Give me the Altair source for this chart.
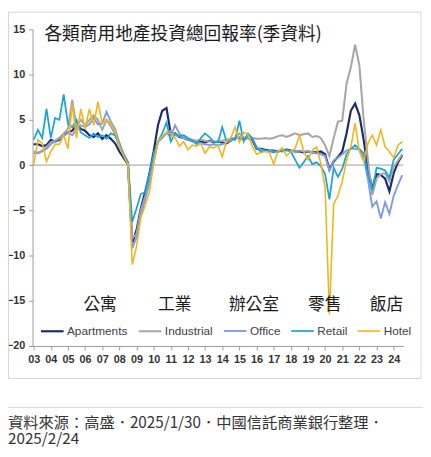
import json
import altair as alt
import pandas as pd

# ---------------- data ----------------
series_names = ["Apartments", "Industrial", "Office", "Retail", "Hotel"]
series_colors = ["#1c2b6b", "#a6a6a6", "#7f9be3", "#1aa2da", "#f2b51b"]
year_labels = ["03", "04", "05", "06", "07", "08", "09", "10", "11", "12", "13",
               "14", "15", "16", "17", "18", "19", "20", "21", "22", "23", "24"]

apartments = [
    2.3, 2.3, 2.1, 2.2, 2.8, 2.6, 2.8, 3.3, 3.6, 3.8, 4.4, 4.0,
    3.8, 3.3, 3.1, 3.5, 2.9, 3.3, 2.9, 2.4, 1.5, 0.8, 0.1, -8.6,
    -7.2, -4.8, -3.0, -1.0, 1.5, 4.4, 6.0, 6.3, 3.4, 3.5, 3.1, 3.0,
    2.8, 2.7, 2.6, 2.6, 2.5, 2.7, 2.5, 2.6, 2.5, 2.4, 2.7, 3.0,
    3.0, 2.9, 3.0, 2.8, 1.8, 1.8, 1.7, 1.6, 1.6, 1.5, 1.6, 1.7,
    1.6, 1.5, 1.5, 1.4, 1.5, 1.4, 1.4, 1.5, 1.2, -0.5, 0.4, 0.9,
    1.5, 3.5, 6.0, 6.8, 5.5, 2.8, -0.5, -2.6, -1.0, -1.1, -1.5, -2.9,
    -0.9, 0.3, 1.1]
industrial = [
    1.5, 1.4, 1.6, 2.0, 2.5, 2.7, 3.0, 3.5, 4.0, 7.2, 4.2, 5.0,
    4.4, 5.0, 5.5, 5.0, 3.9, 5.0, 4.3, 3.4, 2.0, 1.1, 0.2, -8.1,
    -7.6, -5.0, -3.5, -1.8, 0.8, 2.5, 3.1, 3.6, 3.8, 3.3, 3.2, 3.0,
    2.9, 2.8, 2.7, 2.8, 2.7, 2.6, 2.6, 2.6, 2.7, 2.8, 2.9, 3.0,
    3.5, 3.0, 3.0, 3.0, 2.9, 2.9, 3.0, 2.9, 3.0, 3.2, 3.3, 3.1,
    3.3, 3.5, 3.3, 3.4, 3.5, 3.1, 3.2, 3.0, 2.2, 1.0, 3.0, 4.8,
    4.9, 9.0, 10.8, 13.3, 11.0, 5.0, 0.5, -3.3, -1.5, -1.0, -0.9, -1.8,
    -0.2, 0.5, 1.2]
office = [
    1.3, 1.3, 1.5, 1.8, 2.3, 2.6, 2.9, 3.2, 3.6, 3.3, 4.0, 4.4,
    4.2, 4.5, 5.2, 4.5, 4.6, 5.9, 4.8, 4.0, 2.5, 1.2, 0.3, -9.2,
    -8.0, -5.5, -3.8, -2.0, 0.2, 2.6, 3.0, 3.5, 3.2, 4.4, 3.5, 3.0,
    2.8, 2.6, 2.5, 2.4, 2.3, 2.2, 2.3, 2.2, 2.3, 2.5, 2.7, 2.9,
    3.1, 3.0, 3.1, 2.9, 2.0, 1.7, 1.6, 1.6, 1.5, 1.5, 1.6, 1.6,
    1.6, 1.5, 1.6, 1.5, 1.5, 1.4, 1.3, 1.2, 1.0, -0.6, 0.5, 0.8,
    1.2, 1.6, 1.8, 1.8, 1.7, 0.8, -1.6, -4.6, -4.0, -5.9, -4.1, -5.4,
    -3.4, -2.2, -1.1]
retail = [
    2.8, 3.9, 3.0, 6.2, 3.0, 5.2, 5.0, 7.8, 4.6, 4.2, 5.0, 3.6,
    3.3, 3.0, 3.5, 3.1, 3.3, 2.9, 3.5, 3.3, 2.2, 1.2, 0.3, -6.3,
    -4.8, -3.2, -3.0, -1.0, 1.3, 2.6, 3.5, 4.7, 2.6, 3.5, 3.2, 3.3,
    3.0, 2.7, 2.3, 3.0, 3.5, 3.1, 2.6, 2.5, 4.2, 2.6, 3.0, 2.8,
    4.9, 2.6, 3.5, 3.0, 1.9, 1.5, 1.6, 1.5, 1.4, 1.6, 1.5, 1.7,
    1.5, 0.6, -0.3, 0.3, 1.0, 0.1, 0.3, -0.1, -1.0, -3.8, -0.3, -1.3,
    -0.4, 1.2, 1.8, 2.2, 1.8, 1.3, -1.0, -2.8, -0.3, -0.4, -0.6, -1.4,
    0.6, 1.2, 1.8]
hotel = [
    0.0, 2.8, 2.4, 0.4, 1.5, 2.3, 2.3, 3.3, 1.8, 6.7, 3.0, 6.2,
    4.0, 6.2, 4.4, 7.0, 4.6, 5.0, 4.6, 3.8, 2.1, 1.0, 0.1, -11.0,
    -9.0, -5.8, -4.5, -3.0, 0.2, 2.6, 3.2, 3.6, 3.5, 3.0, 2.1, 2.6,
    1.7, 2.2, 2.1, 2.4, 1.3, 2.0, 1.9, 2.2, 0.9, 2.7, 3.0, 4.2,
    2.5, 3.6, 3.4, 2.1, 1.2, 1.4, 1.5, 1.4, 0.1, 1.5, 1.9, 1.0,
    1.5, 1.8, 3.3, 1.5, 0.6, 1.6, 2.0, 0.2, -2.5, -16.5, -4.3, -3.4,
    -1.8, 0.5, 2.0, 4.6, 1.5, 0.4, 2.4, 3.3, 2.2, 3.9, 2.0, 1.5,
    0.8, 2.2, 2.6]

zh_labels = ["公寓", "工業", "辦公室", "零售", "飯店"]
title_text = "各類商用地產投資總回報率(季資料)"
source_line1 = "資料來源：高盛．2025/1/30．中國信託商業銀行整理．"
source_line2 = "2025/2/24"

# ---------------- build tables ----------------
rows = []
for k, (name, vals) in enumerate(zip(series_names, [apartments, industrial, office, retail, hotel])):
    for i, v in enumerate(vals):
        rows.append({"series": name, "q": i, "value": v, "k": k})
df = pd.DataFrame(rows)

zh_pos_q = [15.5, 32.9, 51.4, 67.9, 82.3]
zh_pos_v = -15.45
ann = pd.DataFrame({"label": zh_labels, "q": zh_pos_q, "value": [zh_pos_v] * len(zh_labels)})

n_q = len(apartments)
label_expr = json.dumps(year_labels).replace('"', "'") + "[round(datum.value / 4)]"

CJK = "Noto Sans CJK TC"
LAT = "Liberation Sans"

x_scale = alt.Scale(domain=[-0.25, n_q - 0.75], nice=False, zero=False)
y_scale = alt.Scale(domain=[-20, 15], nice=False)

x_axis = alt.Axis(values=list(range(0, 4 * len(year_labels), 4)), labelExpr=label_expr,
                  title=None, grid=False, ticks=True, tickSize=4, tickColor="#9a9a9a",
                  domainColor="#9a9a9a", domainWidth=1,
                  labelFont=LAT, labelFontSize=11, labelFontWeight="bold",
                  labelColor="#333333", labelPadding=4, labelFlush=False,
                  labelOverlap=False, labelBound=False, labelSeparation=0)
y_axis = alt.Axis(values=[-20, -15, -10, -5, 0, 5, 10, 15], title=None, grid=False,
                  ticks=True, tickSize=4, tickColor="#9a9a9a",
                  domainColor="#9a9a9a", domainWidth=1,
                  labelFont=LAT, labelFontSize=11, labelFontWeight="bold",
                  labelColor="#333333", labelPadding=4, labelOverlap=False)

lines = alt.Chart(df).mark_line(interpolate="linear").encode(
    x=alt.X("q:Q", scale=x_scale, axis=x_axis),
    y=alt.Y("value:Q", scale=y_scale, axis=y_axis),
    color=alt.Color("series:N", scale=alt.Scale(domain=series_names, range=series_colors),
                    legend=alt.Legend(title=None, orient="none", legendX=7, legendY=294,
                                      direction="horizontal", columns=5,
                                      symbolType="stroke", symbolSize=529,
                                      symbolStrokeWidth=2, labelFont=LAT,
                                      labelFontSize=12, labelColor="#404040",
                                      columnPadding=6.5, labelOffset=2, padding=0)),
    strokeWidth=alt.StrokeWidth("series:N",
                                scale=alt.Scale(domain=series_names, range=[2.2, 1.6, 1.6, 1.7, 1.7]),
                                legend=None),
    detail="series:N",
)

zero_rule = alt.Chart(pd.DataFrame({"value": [0]})).mark_rule(color="#9a9a9a", strokeWidth=1).encode(
    y=alt.Y("value:Q", scale=y_scale, axis=y_axis))

zh_text = alt.Chart(ann).mark_text(font=CJK, fontSize=17, color="#1a1a1a",
                                   align="center", baseline="middle").encode(
    x=alt.X("q:Q", scale=x_scale, axis=x_axis),
    y=alt.Y("value:Q", scale=y_scale, axis=y_axis),
    text="label:N")

one = pd.DataFrame({"t": [title_text]})
title = alt.Chart(one).mark_text(font=CJK, fontSize=18, color="#1a1a1a",
                                 align="left", baseline="middle").encode(
    x=alt.value(12), y=alt.value(6), text="t:N")

frame = alt.Chart(one).mark_rect(fillOpacity=0, stroke="#d6d6d6", strokeWidth=1).encode(
    x=alt.value(-24.5), x2=alt.value(395), y=alt.value(-17.5), y2=alt.value(355))

sep = alt.Chart(one).mark_rule(color="#d9d9d9", strokeWidth=1).encode(
    x=alt.value(-25), x2=alt.value(397), y=alt.value(384.5))

src1 = alt.Chart(pd.DataFrame({"t": [source_line1]})).mark_text(
    font=CJK, fontSize=15.5, color="#333333", align="left", baseline="alphabetic").encode(
    x=alt.value(-25), y=alt.value(405), text="t:N")
src2 = alt.Chart(pd.DataFrame({"t": [source_line2]})).mark_text(
    font=CJK, fontSize=15.5, color="#333333", align="left", baseline="alphabetic").encode(
    x=alt.value(-25), y=alt.value(422), text="t:N")

chart = alt.layer(frame, zero_rule, lines, zh_text, title, sep, src1, src2).properties(
    width=377, height=322,
    padding={"left": 25, "top": 18, "right": 20, "bottom": 101},
    autosize=alt.AutoSizeParams(type="none"),
    background="white",
).configure_view(stroke="transparent").configure_axis(labelOverlap=False)

chart.save("out.html", embed_options={"renderer": "svg", "actions": False})
